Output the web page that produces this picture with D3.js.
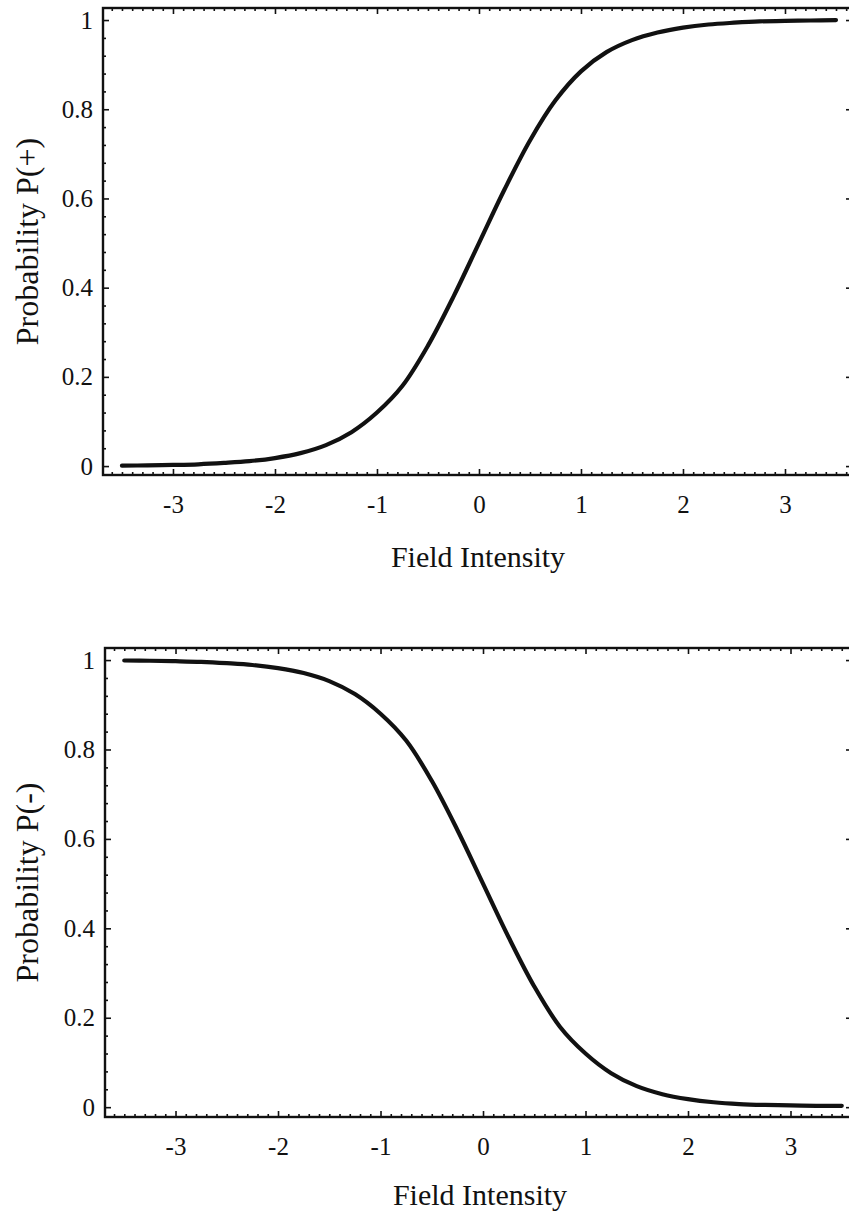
<!DOCTYPE html>
<html>
<head>
<meta charset="utf-8">
<script src="https://cdn.jsdelivr.net/npm/d3@7"></script>
<style>
  body { margin: 0; background: #fff; }
  svg { display: block; }
  .tick text { font-family: "Liberation Serif", "Times New Roman", Times, "DejaVu Serif"; font-size: 25px; fill: #111; }
  .domain { stroke: none; }
  .tick line { stroke: #111; stroke-width: 1.6; }
  .lbl { font-family: "Liberation Serif", "Times New Roman", Times, "DejaVu Serif"; fill: #111; }
</style>
</head>
<body>
<script>
// field intensity samples
const fieldX = [-3.5, -3.25, -3, -2.75, -2.5, -2.25, -2, -1.75, -1.5, -1.25, -1, -0.75, -0.5, -0.25,
  0, 0.25, 0.5, 0.75, 1, 1.25, 1.5, 1.75, 2, 2.25, 2.5, 2.75, 3, 3.25, 3.5];

const probPlus = [0.001, 0.0015, 0.0025, 0.004, 0.007, 0.011, 0.018, 0.029, 0.047, 0.076, 0.12, 0.18, 0.27, 0.38,
  0.5, 0.62, 0.73, 0.82, 0.885, 0.928, 0.955, 0.972, 0.983, 0.99, 0.994, 0.997, 0.998, 0.999, 1.0];

const probMinus = [0.999, 0.9985, 0.9975, 0.996, 0.993, 0.989, 0.982, 0.971, 0.953, 0.924, 0.88, 0.82, 0.73, 0.62,
  0.5, 0.38, 0.27, 0.18, 0.12, 0.076, 0.047, 0.029, 0.018, 0.011, 0.007, 0.005, 0.004, 0.003, 0.003];

const xTicks = [-3, -2, -1, 0, 1, 2, 3];
const yTicks = [0, 0.2, 0.4, 0.6, 0.8, 1];
const xLabel = 'Field Intensity';

const width = 849, height = 1220;

const svg = d3.select('body').append('svg')
  .attr('width', width)
  .attr('height', height);

function panel(opts) {
  const {left, right, top, bottom, xDom, yDom, values, yLabel, yLabelX, xLabelX, xLabelY} = opts;

  const x = d3.scaleLinear().domain(xDom).range([left, right]);
  const y = d3.scaleLinear().domain(yDom).range([bottom, top]);

  const xMinor = d3.range(-36, 37).map(d => d / 10).filter(d => d >= xDom[0] && d <= xDom[1] && !xTicks.includes(d));
  const yMinor = d3.range(0, 26).map(d => +(d * 0.04).toFixed(2)).filter(d => !yTicks.includes(d));

  const g = svg.append('g');

  // minor ticks, all four sides
  g.append('g').attr('transform', `translate(0,${bottom})`)
    .call(d3.axisBottom(x).tickValues(xMinor).tickSize(-3).tickFormat(''));
  g.append('g').attr('transform', `translate(0,${top})`)
    .call(d3.axisTop(x).tickValues(xMinor).tickSize(-3).tickFormat(''));
  g.append('g').attr('transform', `translate(${left},0)`)
    .call(d3.axisLeft(y).tickValues(yMinor).tickSize(-3).tickFormat(''));
  g.append('g').attr('transform', `translate(${right},0)`)
    .call(d3.axisRight(y).tickValues(yMinor).tickSize(-3).tickFormat(''));

  // major ticks
  g.append('g').attr('transform', `translate(0,${bottom})`)
    .call(d3.axisBottom(x).tickValues(xTicks).tickSize(-6).tickPadding(20).tickFormat(d => String(d)));
  g.append('g').attr('transform', `translate(0,${top})`)
    .call(d3.axisTop(x).tickValues(xTicks).tickSize(-6).tickFormat(''));
  g.append('g').attr('transform', `translate(${left},0)`)
    .call(d3.axisLeft(y).tickValues(yTicks).tickSize(-6).tickPadding(10).tickFormat(d => String(d)));
  g.append('g').attr('transform', `translate(${right},0)`)
    .call(d3.axisRight(y).tickValues(yTicks).tickSize(-6).tickFormat(''));

  // frame
  g.append('rect')
    .attr('x', left).attr('y', top)
    .attr('width', right - left).attr('height', bottom - top)
    .attr('fill', 'none').attr('stroke', '#111').attr('stroke-width', 2.4);

  const line = d3.line()
    .x((d, i) => x(fieldX[i]))
    .y(d => y(d))
    .curve(d3.curveCatmullRom.alpha(0.5));

  g.append('path')
    .datum(values)
    .attr('d', line)
    .attr('fill', 'none')
    .attr('stroke', '#111')
    .attr('stroke-width', 4.2)
    .attr('stroke-linecap', 'round');

  g.append('text')
    .attr('class', 'lbl')
    .attr('x', xLabelX)
    .attr('y', xLabelY)
    .attr('text-anchor', 'middle')
    .style('font-size', '30px')
    .text(xLabel);

  g.append('text')
    .attr('class', 'lbl')
    .attr('transform', `translate(${yLabelX},${(top + bottom) / 2}) rotate(-90)`)
    .attr('text-anchor', 'middle')
    .style('font-size', '32px')
    .text(yLabel);
}

panel({
  left: 103, right: 852, top: 8, bottom: 475,
  xDom: [-3.686, 3.657], yDom: [-0.02, 1.027],
  values: probPlus, yLabel: 'Probability  P(+)', yLabelX: 38, xLabelX: 478, xLabelY: 567
});

panel({
  left: 105, right: 852, top: 648, bottom: 1117,
  xDom: [-3.688, 3.6], yDom: [-0.022, 1.027],
  values: probMinus, yLabel: 'Probability  P(-)', yLabelX: 38, xLabelX: 480, xLabelY: 1205
});
</script>
</body>
</html>
